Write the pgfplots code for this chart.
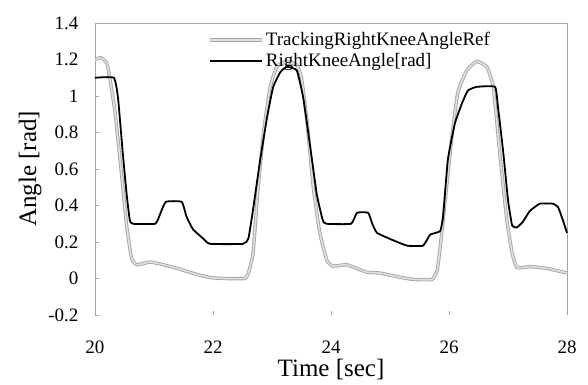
\documentclass[border=0pt]{standalone}
\usepackage{pgfplots}
\pgfplotsset{compat=1.18}
\usepackage{fontspec}
\setmainfont{Liberation Serif}
\begin{document}
\begin{tikzpicture}
\begin{axis}[
  at={(0pt,0pt)}, anchor=south west,
  scale only axis, width=472pt, height=292pt,
  xmin=20, xmax=28, ymin=-0.2, ymax=1.4,
  xtick={20,22,24,26,28}, ytick={-0.2,0,0.2,0.4,0.6,0.8,1,1.2,1.4},
  yticklabels={-0.2,0,0.2,0.4,0.6,0.8,1,1.2,1.4},
  xticklabels={20,22,24,26,28},
  /pgf/number format/assume math mode=true,
  tick pos=left, tick align=inside, major tick length=4pt,
  tick style={gray!70, thin},
  separate axis lines,
  every outer x axis line/.append style={draw=none},
  every outer y axis line/.append style={draw=gray!70, thin},
  ticklabel style={font=\fontsize{19}{22}\selectfont},
  xticklabel style={yshift=-22pt},
  yticklabel style={xshift=-13pt},
  xlabel={Time [sec]}, ylabel={Angle [rad]},
  label style={font=\fontsize{25}{28}\selectfont},
  xlabel style={yshift=1pt},
  ylabel style={yshift=0pt},
  legend style={at={(rel axis cs:0.24,0.975)}, anchor=north west, draw=none, fill=none,
    font=\fontsize{19}{22}\selectfont, row sep=2pt, inner sep=0pt},
  legend cell align=left,
  legend image code/.code={\draw[#1] (0pt,0pt) -- (52pt,0pt);},
  clip=false,
]
\draw[gray!70, thin] (rel axis cs:0,1) -- (rel axis cs:1,1);
\addplot[draw=gray!70, line width=0.9pt, double=gray!25, double distance=1.6pt, smooth, tension=0.25] coordinates {
(20.0,1.20) (20.1,1.21) (20.2,1.18) (20.25,1.10) (20.34,0.91) (20.46,0.54) (20.54,0.28)
(20.62,0.11) (20.71,0.075) (20.93,0.09) (21.1,0.08) (21.4,0.055) (21.7,0.025) (21.95,0.005)
(22.2,0.0) (22.54,0.0) (22.6,0.03) (22.68,0.14) (22.76,0.48) (22.86,0.81) (22.97,1.05)
(23.08,1.16) (23.25,1.19) (23.42,1.17) (23.5,1.10) (23.59,0.87) (23.7,0.50) (23.81,0.25)
(23.93,0.10) (24.03,0.068) (24.27,0.075) (24.6,0.035) (24.83,0.03) (25.12,0.01) (25.39,-0.005)
(25.71,-0.005) (25.8,0.045) (25.86,0.2) (25.93,0.41) (26.05,0.78) (26.15,1.02) (26.3,1.14)
(26.47,1.19) (26.64,1.16) (26.75,1.05) (26.86,0.69) (26.98,0.32) (27.07,0.14) (27.15,0.06)
(27.37,0.065) (27.66,0.055) (28.0,0.03)
};
\addlegendentry{TrackingRightKneeAngleRef}
\addplot[black, line width=1.8pt, smooth, tension=0.25] coordinates {
(20.0,1.10) (20.32,1.10) (20.39,0.99) (20.47,0.69) (20.54,0.45) (20.59,0.32) (20.64,0.30)
(21.02,0.30) (21.1,0.35) (21.2,0.42) (21.47,0.42) (21.55,0.34) (21.66,0.27) (21.83,0.22)
(21.95,0.19) (22.51,0.19) (22.6,0.22) (22.68,0.38) (22.8,0.65) (22.92,0.89) (23.02,1.05)
(23.14,1.13) (23.25,1.16) (23.42,1.14) (23.53,0.99) (23.64,0.74) (23.76,0.46) (23.86,0.32)
(23.92,0.30) (24.34,0.30) (24.44,0.36) (24.63,0.36) (24.7,0.30) (24.78,0.25) (25.05,0.21)
(25.29,0.18) (25.56,0.18) (25.68,0.24) (25.85,0.26) (25.9,0.34) (25.98,0.65) (26.1,0.85)
(26.22,0.96) (26.32,1.03) (26.47,1.05) (26.78,1.05) (26.83,0.94) (26.92,0.69) (27.0,0.43)
(27.07,0.29) (27.15,0.28) (27.25,0.31) (27.37,0.37) (27.54,0.41) (27.76,0.41) (27.85,0.39)
(27.93,0.32) (28.0,0.25)
};
\addlegendentry{RightKneeAngle[rad]}
\end{axis}
\pgfresetboundingbox
\path (-95pt,-69pt) rectangle (493pt,315pt);
\end{tikzpicture}
\end{document}
